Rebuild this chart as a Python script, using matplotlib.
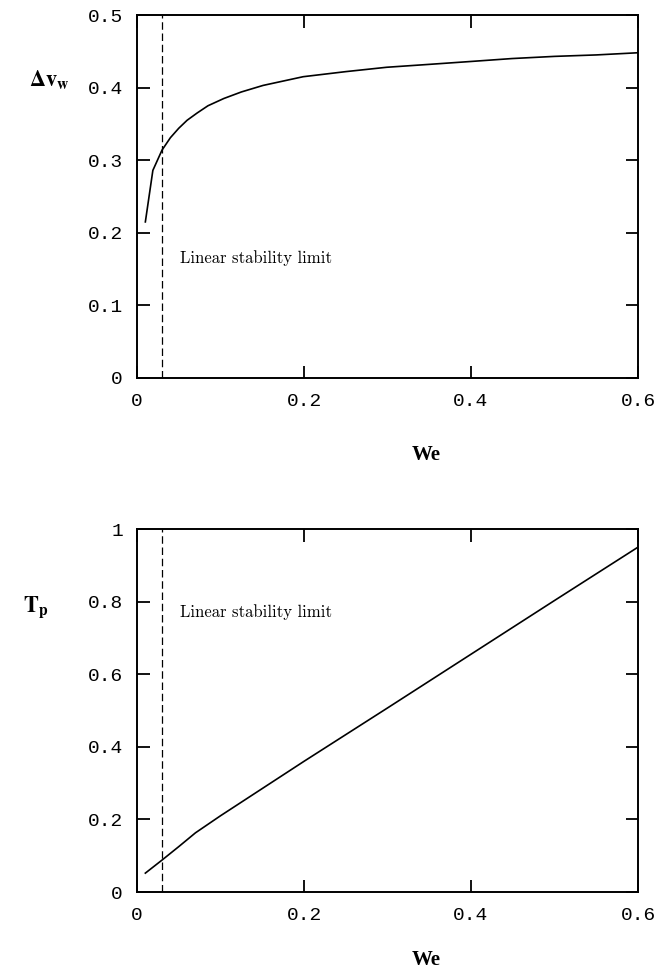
import matplotlib
matplotlib.use("Agg")
import matplotlib.pyplot as plt

plt.rcParams["mathtext.fontset"] = "stix"

# top panel: velocity jump vs Weber number
we_top = [0.01, 0.019, 0.03, 0.04, 0.05, 0.06, 0.072, 0.085, 0.104, 0.125, 0.151, 0.175,
          0.199, 0.25, 0.299, 0.35, 0.4, 0.449, 0.5, 0.55, 0.6]
dv_w = [0.215, 0.286, 0.314, 0.331, 0.344, 0.355, 0.365, 0.375, 0.385, 0.394, 0.403, 0.409,
        0.415, 0.422, 0.428, 0.432, 0.436, 0.440, 0.443, 0.445, 0.448]

# bottom panel: Tp vs Weber number
we_bot = [0.01, 0.03, 0.05, 0.07, 0.1, 0.2, 0.3, 0.4, 0.5, 0.6]
t_p = [0.052, 0.088, 0.125, 0.163, 0.21, 0.36, 0.507, 0.655, 0.803, 0.95]

we_limit = 0.03

x_ticks = [0, 0.2, 0.4, 0.6]
x_ticklabels = ["0", "0.2", "0.4", "0.6"]
top_yticks = [0, 0.1, 0.2, 0.3, 0.4, 0.5]
top_yticklabels = ["0", "0.1", "0.2", "0.3", "0.4", "0.5"]
bot_yticks = [0, 0.2, 0.4, 0.6, 0.8, 1.0]
bot_yticklabels = ["0", "0.2", "0.4", "0.6", "0.8", "1"]

fig = plt.figure(figsize=(6.59, 9.71), dpi=100)
W, H = 659, 971

def make_axes(top_px, bottom_px):
    return fig.add_axes([137 / W, 1 - bottom_px / H, (638 - 137) / W, (bottom_px - top_px) / H])

ax1 = make_axes(15, 378)
ax2 = make_axes(529, 892)

mono = "Liberation Mono"

for ax, yt, ytl in [(ax1, top_yticks, top_yticklabels), (ax2, bot_yticks, bot_yticklabels)]:
    ax.set_xlim(0, 0.6)
    ax.set_ylim(yt[0], yt[-1])
    ax.set_xticks(x_ticks)
    ax.set_xticklabels(x_ticklabels, fontfamily=mono, fontsize=14)
    ax.set_yticks(yt)
    ax.set_yticklabels(ytl, fontfamily=mono, fontsize=14)
    ax.tick_params(direction="in", length=9, width=1.3, top=True, right=True)
    ax.tick_params(axis="x", pad=11)
    ax.tick_params(axis="y", pad=10)
    for s in ax.spines.values():
        s.set_linewidth(1.4)
    ax.axvline(we_limit, color="black", linestyle=(0, (6, 3)), linewidth=0.9)

ax1.plot(we_top, dv_w, color="black", linewidth=1.2)
ax2.plot(we_bot, t_p, color="black", linewidth=1.2)

ax1.text(0.051, 0.165, "Linear stability limit", fontname="cmr10", fontsize=12, va="center")
ax2.text(0.051, 0.77, "Linear stability limit", fontname="cmr10", fontsize=12, va="center")

fig.text(29 / W, 1 - 80 / H, r"$\mathbf{\Delta v_w}$", fontsize=16, va="center", ha="left")
fig.text(23 / W, 1 - 607 / H, r"$\mathbf{T_p}$", fontsize=16, va="center", ha="left")

fig.text(426 / W, 1 - 455 / H, "We", fontfamily="Liberation Serif", fontweight="bold", fontsize=15, ha="center", va="center")
fig.text(426 / W, 1 - 960 / H, "We", fontfamily="Liberation Serif", fontweight="bold", fontsize=15, ha="center", va="center")

fig.savefig("out.png", dpi=100)
